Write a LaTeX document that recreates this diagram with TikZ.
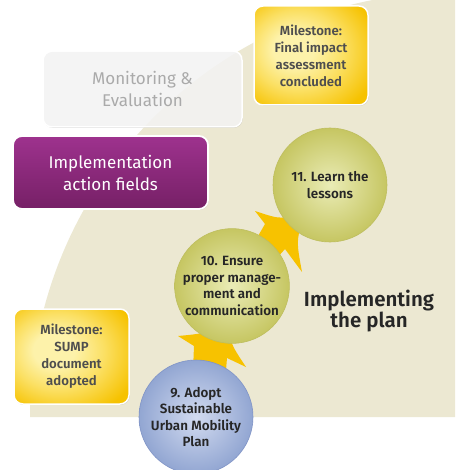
\documentclass[tikz,border=0pt]{standalone}
\usepackage{fontspec}
\setmainfont{Fira Sans}
\newfontfamily\semib{Fira Sans SemiBold}
\newfontfamily\medf{Fira Sans Medium}
\usetikzlibrary{calc,shadows}
\pgfdeclarelayer{back}
\pgfdeclarelayer{mid}
\pgfsetlayers{back,mid,main}
\definecolor{beige}{RGB}{236,232,210}
\definecolor{purpletop}{RGB}{158,50,142}
\definecolor{purplebot}{RGB}{118,32,102}
\definecolor{yellowin}{RGB}{253,242,170}
\definecolor{yellowmid}{RGB}{251,224,100}
\definecolor{yellowout}{RGB}{246,194,0}
\definecolor{greenin}{RGB}{234,236,182}
\definecolor{greenout}{RGB}{198,198,98}
\definecolor{greenline}{RGB}{190,190,95}
\definecolor{bluein}{RGB}{210,219,240}
\definecolor{blueout}{RGB}{146,166,210}
\definecolor{blueline}{RGB}{128,148,198}
\definecolor{arrowyellow}{RGB}{247,194,0}
\definecolor{textdark}{RGB}{38,38,38}
\definecolor{mstext}{RGB}{78,78,78}
\definecolor{greytext}{RGB}{170,170,170}
\pgfdeclareradialshading{milestoneshade}{\pgfpoint{-9bp}{4bp}}{%
  color(0bp)=(yellowin); color(9bp)=(yellowin); color(20bp)=(yellowmid);
  color(34bp)=(yellowout); color(60bp)=(yellowout)}
\tikzset{
  circ/.style={circle, minimum size=114pt, inner sep=0pt, align=center,
    font=\semib\fontsize{13.4}{16.6}\selectfont, text=textdark},
  greencirc/.style={circ, inner color=greenin, outer color=greenout, draw=greenline, line width=0.6pt},
  bluecirc/.style={circ, inner color=bluein, outer color=blueout, draw=blueline, line width=0.6pt},
  boxshadow/.style={drop shadow={shadow xshift=0.6pt, shadow yshift=-0.8pt, opacity=0.22, fill=black}},
  milebox/.style={rectangle, rounded corners=9pt, shading=milestoneshade,
    draw=white, line width=1.5pt, align=center, text=mstext, boxshadow,
    font=\semib\fontsize{13.2}{17}\selectfont},
  purplebox/.style={rectangle, rounded corners=9pt, top color=purpletop, bottom color=purplebot,
    draw=white, line width=1.8pt, align=center, text=white, boxshadow,
    font=\fontsize{17}{22}\selectfont},
  monbox/.style={rectangle, rounded corners=9pt, fill=white, fill opacity=0.82, text opacity=1,
    draw=white, line width=1.5pt, align=center, text=greytext, boxshadow,
    font=\fontsize{17}{22}\selectfont},
  bigarrow/.style={fill=arrowyellow},
}
\begin{document}
\begin{tikzpicture}[x=1pt, y=-1pt]
\useasboundingbox (0,0) rectangle (455,470);
\begin{pgfonlayer}{back}
  \fill[white] (0,0) rectangle (455,470);
  \fill[beige] (455,417) -- (30,417) arc[start angle=180, end angle=270, radius=425] -- cycle;
\end{pgfonlayer}

% boxes
\node[monbox, minimum width=199pt, minimum height=76pt] (mon) at (142.5,89) {Monitoring \&\\Evaluation};
\node[purplebox, minimum width=195pt, minimum height=73pt] (impl) at (110.5,172.5) {Implementation\\action fields};
\node[milebox, minimum width=114pt, minimum height=99pt] (msfinal) at (311,55.5) {Milestone:\\Final impact\\assessment\\concluded};
\node[milebox, minimum width=115pt, minimum height=95pt] (mssump) at (71.5,356.5) {Milestone:\\SUMP\\document\\adopted};

% circles
\node[greencirc] (c11) at (330,185) {11. Learn the\\lessons};
\node[greencirc] (c10) at (232,286) {10. Ensure\\proper manage-\\ment and\\communication};
\node[bluecirc] (c9) at (196,417) {9. Adopt\\Sustainable\\Urban Mobility\\Plan};

\node[font=\semib\fontsize{20.5}{20}\selectfont, text=textdark, align=center] (title) at (369,311) {Implementing\\the plan};

% block arrows (drawn behind the circles), points relative to the circles
\begin{pgfonlayer}{mid}
  % 9 -> 10
  \fill[bigarrow] ($(c9)+(-4,-22)$) -- ($(c10)+(-38,60)$) -- ($(c10)+(-54,50)$)
     .. controls ($(c10)+(-22,47)$) .. ($(c10)+(-6,28)$)
     .. controls ($(c10)+(-2,57)$) .. ($(c10)+(14,81)$)
     -- ($(c10)+(-5,72)$) -- ($(c9)+(28,-22)$) -- cycle;
  % 10 -> 11
  \fill[bigarrow] ($(c10)+(18,-36)$) -- ($(c11)+(-65,39)$) -- ($(c11)+(-75,26)$)
     .. controls ($(c11)+(-48,35)$) .. ($(c11)+(-24,25)$)
     .. controls ($(c11)+(-34,55)$) .. ($(c11)+(-28,87)$)
     -- ($(c11)+(-45,64)$) -- ($(c10)+(36,-18)$) -- cycle;
\end{pgfonlayer}
\end{tikzpicture}
\end{document}
